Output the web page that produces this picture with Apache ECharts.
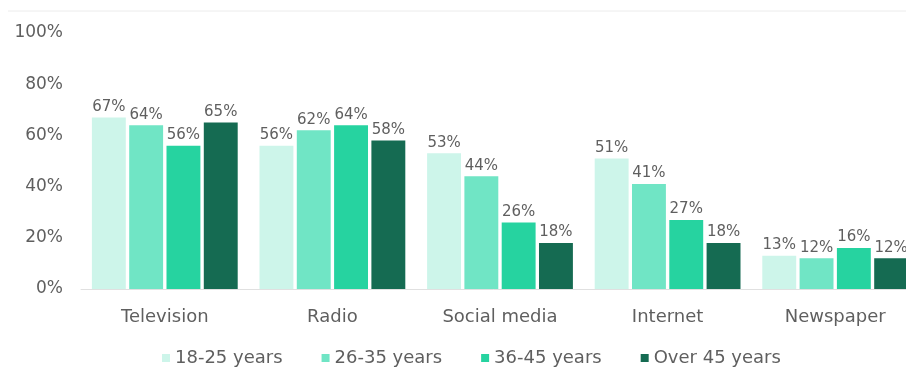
<!DOCTYPE html>
<html>
<head>
<meta charset="utf-8">
<script src="https://cdn.jsdelivr.net/npm/echarts@6/dist/echarts.min.js"></script>
<style>
  html, body { margin: 0; padding: 0; background: #fff; }
  #chart { width: 906px; height: 372px; }
</style>
</head>
<body>
<div id="chart"></div>
<script>
const categories = ["Television", "Radio", "Social media", "Internet", "Newspaper"];
const seriesNames = ["18-25 years", "26-35 years", "36-45 years", "Over 45 years"];
const age18to25 = [67, 56, 53, 51, 13];
const age26to35 = [64, 62, 44, 41, 12];
const age36to45 = [56, 64, 26, 27, 16];
const over45 = [65, 58, 18, 18, 12];
const colors = ["#cdf5ea", "#70e5c5", "#26d3a0", "#156b52"];

const chart = echarts.init(document.getElementById("chart"));

const font = "'DejaVu Sans', sans-serif";
const values = [age18to25, age26to35, age36to45, over45];

const option = {
  animation: false,
  textStyle: { fontFamily: font },
  graphic: [
    {
      type: "line",
      shape: { x1: 8, y1: 11, x2: 906, y2: 11 },
      style: { stroke: "#ececec", lineWidth: 1 }
    }
  ],
  // grid runs past the right edge, like the cropped original
  grid: { left: 81, width: 838, top: 33, bottom: 83, outerBoundsMode: "none" },
  legend: {
    bottom: 0,
    left: 157,
    itemWidth: 8,
    itemHeight: 8,
    itemGap: 39,
    icon: "rect",
    textStyle: { color: "#5f5f5f", fontSize: 18, fontFamily: font }
  },
  xAxis: {
    type: "category",
    data: categories,
    axisLine: { lineStyle: { color: "#e0e0e0" } },
    axisTick: { show: false },
    axisLabel: { color: "#5f5f5f", fontSize: 18, margin: 19 }
  },
  yAxis: {
    type: "value",
    min: 0,
    max: 100,
    interval: 20,
    splitLine: { show: false },
    axisLine: { show: false },
    axisTick: { show: false },
    axisLabel: { color: "#5f5f5f", fontSize: 17, formatter: "{value}%", margin: 18 }
  },
  series: seriesNames.map((name, i) => ({
    name: name,
    type: "bar",
    data: values[i],
    barGap: "10%",
    barCategoryGap: "13%",
    itemStyle: { color: colors[i] },
    label: {
      show: true,
      position: "top",
      distance: 3,
      color: "#5f5f5f",
      fontSize: 15,
      formatter: "{c}%"
    }
  }))
};

chart.setOption(option);
</script>
</body>
</html>
